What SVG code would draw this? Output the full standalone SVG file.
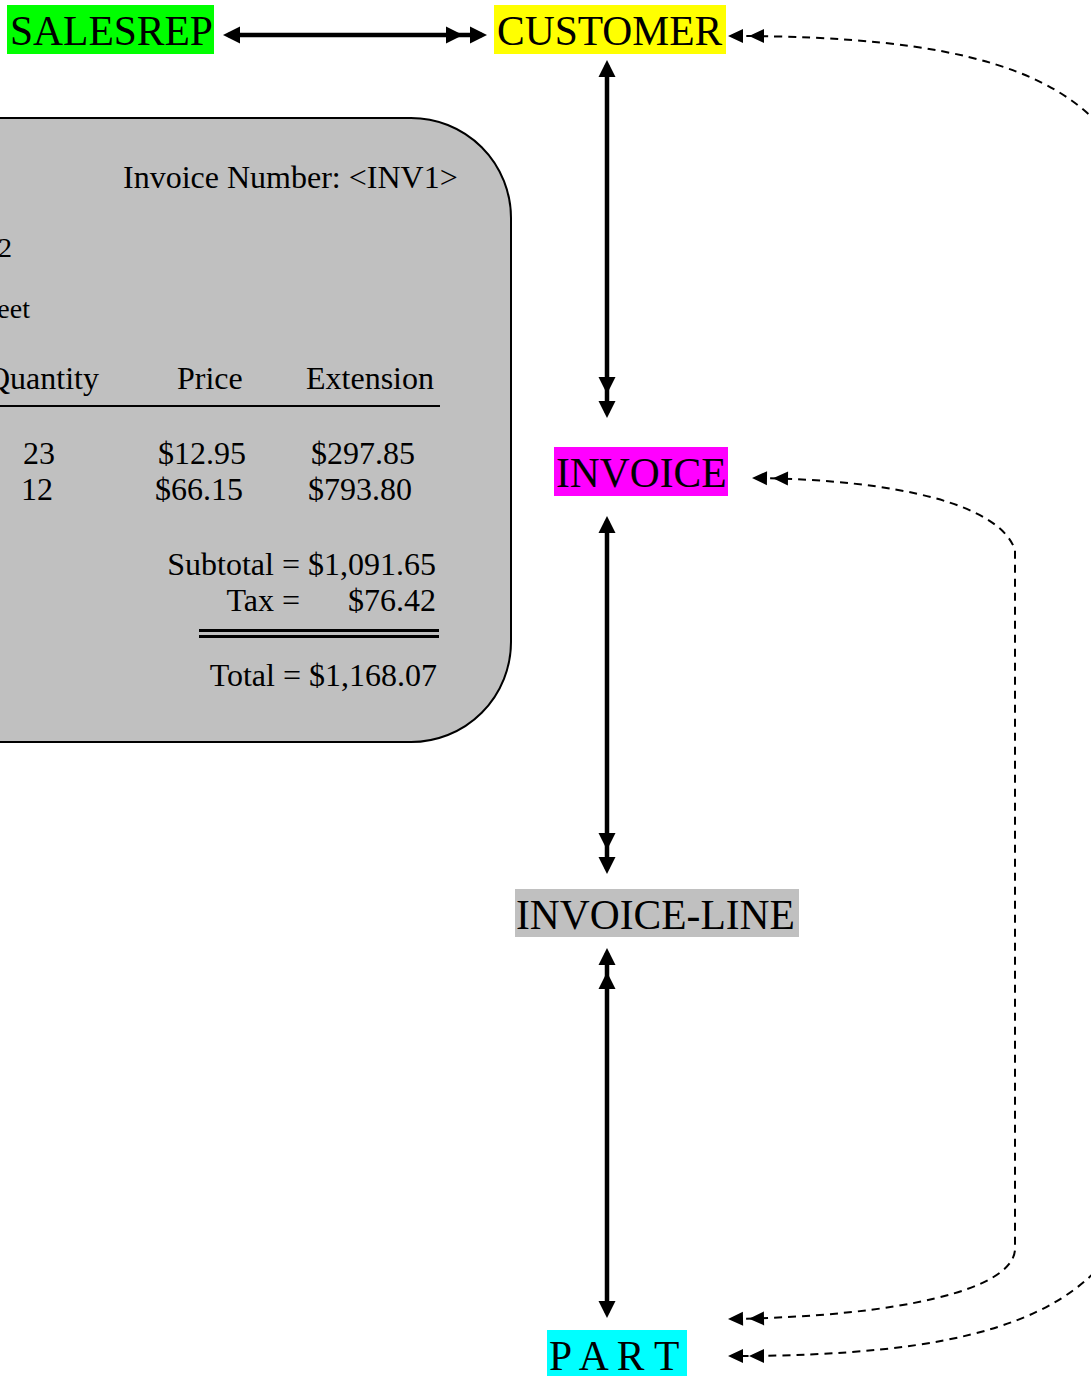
<svg xmlns="http://www.w3.org/2000/svg" width="1091" height="1376" viewBox="0 0 1091 1376">
<style>
.lbl{font-family:"Liberation Serif","Times New Roman",serif;font-size:41.5px;fill:#000}
.t{font-family:"Liberation Serif","Times New Roman",serif;font-size:32px;fill:#000}
.ts{font-family:"Liberation Serif","Times New Roman",serif;font-size:28px;fill:#000}
.solid{fill:none;stroke:#000;stroke-width:4.5}
.dash{fill:none;stroke:#000;stroke-width:2;stroke-dasharray:8 6}
</style>
<defs>
<marker id="s1" markerUnits="userSpaceOnUse" orient="auto-start-reverse" refX="-5" refY="0" markerWidth="20" markerHeight="20" overflow="visible">
<path d="M-17,-8.5 L0,0 L-17,8.5 Z" fill="#000"/>
</marker>
<marker id="s2" markerUnits="userSpaceOnUse" orient="auto-start-reverse" refX="-5" refY="0" markerWidth="45" markerHeight="20" overflow="visible">
<path d="M-17,-8.5 L0,0 L-17,8.5 Z M-41,-8.5 L-24,0 L-41,8.5 Z" fill="#000"/>
</marker>
<marker id="d2" markerUnits="userSpaceOnUse" orient="auto-start-reverse" refX="-4" refY="0" markerWidth="40" markerHeight="16" overflow="visible">
<path d="M-15,-7 L0,0 L-15,7 Z M-36,-7 L-21,0 L-36,7 Z" fill="#000"/>
</marker>
</defs>
<rect width="1091" height="1376" fill="#fff"/>

<g id="invoice-form">
<rect x="-100" y="118" width="611" height="624" rx="100" ry="100" fill="#c0c0c0" stroke="#000" stroke-width="2"/>
<text class="t" x="123" y="188">Invoice Number: &lt;INV1&gt;</text>
<text class="ts" x="12" y="257" text-anchor="end">2</text>
<text class="ts" x="30" y="318" text-anchor="end">eet</text>
<text class="t" x="-13" y="389">Quantity</text>
<text class="t" x="177" y="389">Price</text>
<text class="t" x="306" y="389">Extension</text>
<line x1="-10" y1="406" x2="440" y2="406" stroke="#000" stroke-width="2"/>
<text class="t" x="23" y="464">23</text>
<text class="t" x="158" y="464">$12.95</text>
<text class="t" x="311" y="464">$297.85</text>
<text class="t" x="21" y="500">12</text>
<text class="t" x="155" y="500">$66.15</text>
<text class="t" x="308" y="500">$793.80</text>
<text class="t" x="436" y="575" text-anchor="end">Subtotal = $1,091.65</text>
<text class="t" x="300" y="611" text-anchor="end">Tax =</text>
<text class="t" x="436" y="611" text-anchor="end">$76.42</text>
<line x1="199" y1="630.5" x2="439" y2="630.5" stroke="#000" stroke-width="3"/>
<line x1="199" y1="636.5" x2="439" y2="636.5" stroke="#000" stroke-width="3"/>
<text class="t" x="437" y="686" text-anchor="end">Total = $1,168.07</text>
</g>

<g id="connectors">
<path class="solid" d="M228,35 L482,35" marker-start="url(#s1)" marker-end="url(#s2)"/>
<path class="solid" d="M607,65 L607,413" marker-start="url(#s1)" marker-end="url(#s2)"/>
<path class="solid" d="M607,521 L607,869" marker-start="url(#s1)" marker-end="url(#s2)"/>
<path class="solid" d="M607,953 L607,1313" marker-start="url(#s2)" marker-end="url(#s1)"/>
<path class="dash" d="M732,36 C960,36 1075,70 1125,160 L1125,1232 C1075,1322 960,1356 732,1356" marker-start="url(#d2)" marker-end="url(#d2)"/>
<path class="dash" d="M756,478 C900,480 1000,505 1015,550 L1015,1250 C1012,1290 900,1316 732,1319" marker-start="url(#d2)" marker-end="url(#d2)"/>
</g>

<g id="salesrep">
<rect x="7" y="5" width="207" height="49" fill="#00ff00"/>
<text class="lbl" x="10" y="45">SALESREP</text>
</g>
<g id="customer">
<rect x="494" y="5" width="232" height="49" fill="#ffff00"/>
<text class="lbl" x="497" y="45">CUSTOMER</text>
</g>
<g id="invoice">
<rect x="554" y="447" width="174" height="49" fill="#ff00ff"/>
<text class="lbl" x="556" y="487">INVOICE</text>
</g>
<g id="invoice-line">
<rect x="515" y="889" width="284" height="48" fill="#c0c0c0"/>
<text class="lbl" x="516" y="929">INVOICE-LINE</text>
</g>
<g id="part">
<rect x="547" y="1330" width="140" height="49" fill="#00ffff"/>
<text class="lbl" x="549" y="1370">P A R T</text>
</g>
</svg>
